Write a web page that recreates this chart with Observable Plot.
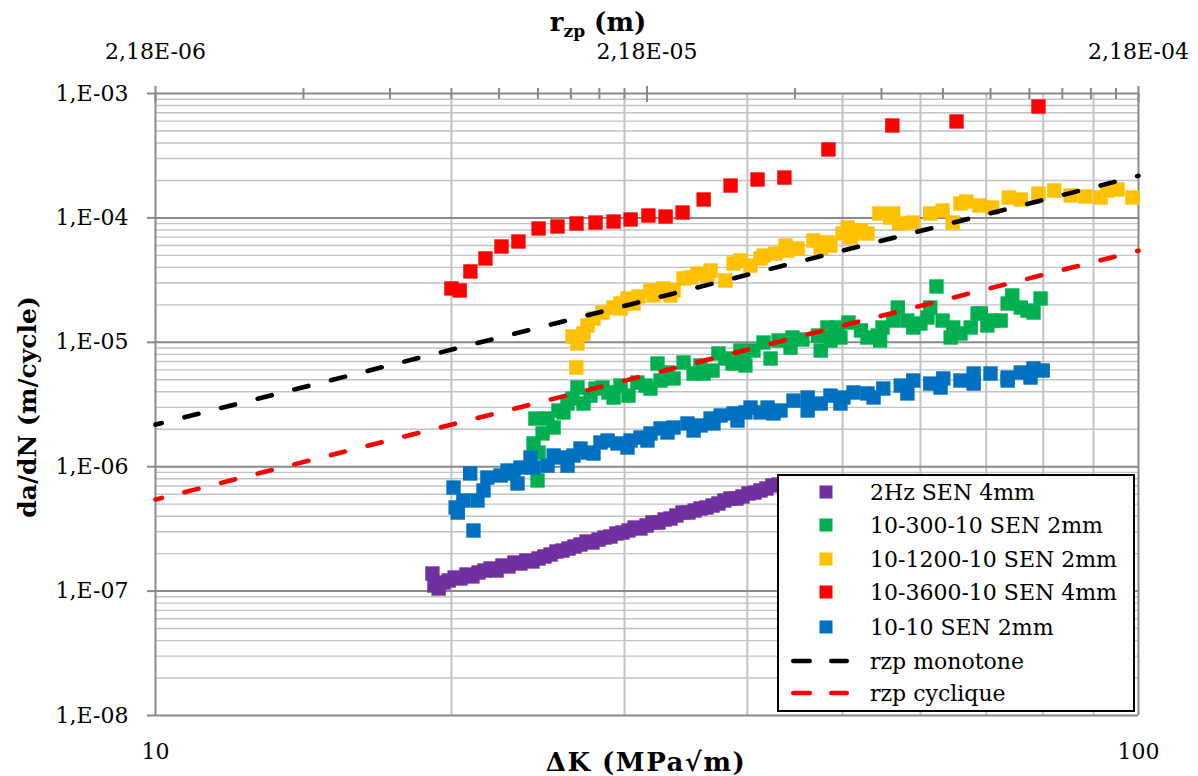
<!DOCTYPE html>
<html><head><meta charset="utf-8">
<script src="https://cdn.jsdelivr.net/npm/d3@7"></script>
<script src="https://cdn.jsdelivr.net/npm/@observablehq/plot@0.6"></script>
<style>
body{margin:0;background:#fff;}
#wrap{position:relative;width:1198px;height:776px;overflow:hidden;font-family:"DejaVu Serif",serif;}
#legend{position:absolute;left:777px;top:474px;}
</style></head><body><div id="wrap"></div>
<script>
// ---- data (ΔK in MPa√m, da/dN in m/cycle) ----
const purpleDK = [19.13,19.22,19.41,19.63,19.87,20.15,20.43,20.72,21.01,21.31,21.61,21.92,22.23,22.54,22.86,23.18,23.51,23.84,24.18,24.53,24.87,25.23,25.58,25.94,26.31,26.68,27.06,27.45,27.83,28.23,28.63,29.03,29.44,29.86,30.28,30.71,31.14,31.59,32.03,32.49,32.95,33.41,33.88,34.37,34.85,35.35,35.84,36.35,36.87,37.38,37.91,38.45,38.99,39.55,40.11,40.68,41.25,41.83,42.42,43.03];
const purpleRate = [1.385e-7,1.109e-7,1.049e-7,1.172e-7,1.217e-7,1.286e-7,1.263e-7,1.36e-7,1.311e-7,1.411e-7,1.464e-7,1.52e-7,1.464e-7,1.606e-7,1.577e-7,1.698e-7,1.667e-7,1.762e-7,1.73e-7,1.829e-7,1.898e-7,1.969e-7,2.081e-7,2.12e-7,2.2e-7,2.283e-7,2.369e-7,2.504e-7,2.458e-7,2.598e-7,2.696e-7,2.747e-7,2.904e-7,2.958e-7,3.07e-7,3.245e-7,3.186e-7,3.368e-7,3.559e-7,3.559e-7,3.764e-7,3.834e-7,4.053e-7,4.284e-7,4.284e-7,4.445e-7,4.613e-7,4.699e-7,4.876e-7,5.06e-7,5.35e-7,5.55e-7,5.55e-7,5.76e-7,6.09e-7,6.2e-7,6.44e-7,6.68e-7,7.06e-7,7.19e-7];

const greenDK = [24.24,24.35,24.47,24.53,24.76,25.05,25.41,25.70,26.25,26.87,27.25,28.03,28.49,29.24,29.72,30.28,30.92,31.88,32.41,32.64,33.65,34.45,35.27,36.11,37.38,38.64,39.36,39.64,40.58,41.55,42.24,43.04,44.46,45.5,47.2,47.5,48.6,49.4,50.7,52.2,54.3,54.9,56.9,58.2,60.0,61.4,62.3,63.2,64.8,65.9,68.6,70.2,72.4,74.4,75.9,78.2,79.5,
  39.82,44.26,48.26,49.75,53.0,54.6,56.3,59.0,61.0,64.4,67.5,69.1,71.2,73.6,77.1,26.0,26.56,27.70,28.89,31.51,33.18,35.84,36.87,38.0];
const greenRate = [1.537e-6,2.44e-6,7.75e-7,1.30e-6,1.85e-6,2.44e-6,2.066e-6,2.83e-6,3.22e-6,4.33e-6,3.22e-6,4.25e-6,4.33e-6,3.6e-6,4.49e-6,3.73e-6,4.75e-6,4.25e-6,6.75e-6,4.93e-6,5.12e-6,6.88e-6,5.61e-6,5.61e-6,8.13e-6,6.75e-6,8.59e-6,7.55e-6,8.59e-6,9.96e-6,7.41e-6,1.034e-5,1.093e-5,1.053e-5,1.134e-5,8.59e-6,1.034e-5,1.315e-5,1.442e-5,1.245e-5,1.134e-5,1.315e-5,1.904e-5,1.496e-5,1.416e-5,1.904e-5,2.81e-5,1.496e-5,1.315e-5,1.177e-5,1.704e-5,1.365e-5,1.496e-5,2.38e-5,1.904e-5,1.736e-5,2.25e-5,
  6.51e-6,9.08e-6,1.315e-5,1.093e-5,1.093e-5,1.034e-5,1.496e-5,1.315e-5,1.583e-5,1.093e-5,1.315e-5,1.704e-5,1.496e-5,2.05e-5,1.80e-5,2.73e-6,3.53e-6,3.73e-6,3.95e-6,4.49e-6,5.72e-6,6.51e-6,5.93e-6,7.41e-6];

const yellowDK = [26.8,26.56,26.87,27.25,27.51,27.90,28.49,29.24,29.72,30.21,30.99,31.88,32.87,33.41,34.45,35.6,36.7,38.0,39.36,40.3,41.55,42.73,43.75,45.0,46.7,47.5,48.6,50.0,51.2,53.0,54.5,55.9,57.1,58.9,61.4,63.2,64.7,66.8,68.9,71.0,73.8,75.9,79.1,82.1,85.3,88.3,91.5,95.2,98.6,
  29.72,30.64,32.11,33.65,35.03,36.44,38.73,41.25,43.95,48.26,50.93,50.6,52.2,56.3,65.9,93.0];
const yellowRate = [6.27e-6,1.113e-5,9.78e-6,1.177e-5,1.365e-5,1.553e-5,1.736e-5,1.904e-5,2.05e-5,2.25e-5,2.335e-5,2.61e-5,2.71e-5,2.38e-5,3.26e-5,3.57e-5,3.78e-5,3.14e-5,4.55e-5,4.14e-5,4.98e-5,5.17e-5,6.0e-5,5.68e-5,6.58e-5,5.68e-5,6.0e-5,7.49e-5,7.49e-5,7.49e-5,1.085e-4,1.007e-4,9.02e-5,9.18e-5,1.085e-4,1.147e-4,9.18e-5,1.354e-4,1.258e-4,1.212e-4,1.459e-4,1.405e-4,1.571e-4,1.661e-4,1.514e-4,1.486e-4,1.459e-4,1.692e-4,1.459e-4,
  1.87e-5,2.05e-5,2.38e-5,2.61e-5,3.32e-5,3.44e-5,4.30e-5,4.72e-5,5.47e-5,6.34e-5,6.96e-5,8.37e-5,7.92e-5,1.085e-4,1.305e-4,1.661e-4];

const redDK = [20.0,20.39,20.91,21.66,22.49,23.40,24.53,25.64,26.81,28.03,29.24,30.43,31.73,33.03,34.37,36.11,38.46,40.97,43.63,48.37,56.18,65.29,79.11];
const redRate = [2.71e-5,2.61e-5,3.71e-5,4.72e-5,5.89e-5,6.46e-5,8.22e-5,8.53e-5,9.02e-5,9.18e-5,9.35e-5,9.71e-5,1.045e-4,1.026e-4,1.105e-4,1.405e-4,1.82e-4,2.035e-4,2.11e-4,3.55e-4,5.53e-4,5.96e-4,7.86e-4];

const blueDK = [20.1,20.2,20.3,20.9,21.06,21.26,21.56,22.44,22.81,23.35,23.51,24.24,25.05,25.41,26.25,26.62,27.51,28.36,29.51,30.43,31.14,31.88,32.64,33.65,34.77,35.84,36.7,37.57,38.73,39.82,40.3,41.25,41.94,43.23,44.57,46.07,47.5,48.6,50.1,51.3,53.0,55.0,57.3,59.0,61.4,63.3,65.9,67.97,70.7,73.6,75.9,78.2,79.9,
  20.57,21.76,23.13,24.07,25.82,27.06,27.90,28.83,30.21,31.66,33.18,35.27,36.95,39.09,42.53,46.07,49.75,53.76,58.2,62.9,67.97,73.6,77.65];
const blueRate = [6.8e-7,4.7e-7,4.28e-7,8.82e-7,3.07e-7,5.35e-7,6.44e-7,8.5e-7,9.32e-7,7.33e-7,9.85e-7,9.85e-7,1.02e-6,1.23e-6,1.02e-6,1.23e-6,1.30e-6,1.565e-6,1.537e-6,1.624e-6,1.717e-6,1.85e-6,2.03e-6,2.066e-6,2.225e-6,2.144e-6,2.44e-6,2.58e-6,2.68e-6,2.73e-6,2.99e-6,2.73e-6,2.99e-6,2.83e-6,3.4e-6,3.6e-6,3.22e-6,3.73e-6,3.6e-6,3.95e-6,3.88e-6,4.25e-6,4.49e-6,4.93e-6,4.66e-6,5.12e-6,4.93e-6,5.61e-6,5.61e-6,5.21e-6,5.72e-6,6.16e-6,5.93e-6,
  5.35e-7,8.19e-7,8.82e-7,1.186e-6,1.186e-6,1.40e-6,1.276e-6,1.624e-6,1.426e-6,1.624e-6,1.884e-6,1.954e-6,2.225e-6,2.35e-6,2.68e-6,2.83e-6,3.22e-6,3.6e-6,3.88e-6,4.33e-6,4.66e-6,4.93e-6,5.21e-6];

// rzp reference lines (end points)
const lineDK = [10, 100];
const monotoneRate = [2.18e-6, 2.18e-4];
const cycliqueRate = [5.45e-7, 5.45e-5];

// axes
const yTicks = [1e-8, 1e-7, 1e-6, 1e-5, 1e-4, 1e-3];
const yTickLabels = ["1,E-08","1,E-07","1,E-06","1,E-05","1,E-04","1,E-03"];
const yMinorMultipliers = [2,3,4,5,6,7,8,9];
const xTicks = [10, 100];
const xTickLabels = ["10","100"];
const xGrid = [20,30,40,50,60,70,80,90];
const rzpAt10 = 2.18e-6;           // rzp at ΔK = 10
const rzpTickLabels = ["2,18E-06","2,18E-05","2,18E-04"];
const rzpMajor = [1, 10, 100];      // multiples of rzpAt10
const rzpMinor = [2,3,4,5,6,7,8,9,20,30,40,50,60,70,80,90];

const seriesNames = ["2Hz SEN 4mm","10-300-10 SEN 2mm","10-1200-10 SEN 2mm","10-3600-10 SEN 4mm","10-10 SEN 2mm"];
const seriesColors = ["#7030A0","#00B050","#FFC000","#FF0000","#0070C0"];
const lineNames = ["rzp monotone","rzp cyclique"];
const lineColors = ["#000000","#FF0000"];

// ---- build tables ----
const zip = (a, b) => a.map((v, i) => ({dk: v, rate: b[i]}));
const series = [zip(purpleDK, purpleRate), zip(greenDK, greenRate), zip(yellowDK, yellowRate), zip(redDK, redRate), zip(blueDK, blueRate)];
const lines = [zip(lineDK, monotoneRate), zip(lineDK, cycliqueRate)];
const yMinor = yTicks.slice(0, -1).flatMap(t => yMinorMultipliers.map(m => m * t));
// rzp ∝ ΔK²  →  ΔK = 10·sqrt(rzp / rzp(10))
const rzpToDK = m => 10 * Math.sqrt(m);
const topMajor = rzpMajor.map(rzpToDK);
const topMinor = rzpMinor.map(rzpToDK);

const axisGray = "#898989";
const gridGray = "#c3c3c3";

const chart = Plot.plot({
  width: 1198, height: 776,
  marginLeft: 155, marginRight: 60, marginTop: 93, marginBottom: 61,
  x: {type: "log", domain: [10, 100]},
  y: {type: "log", domain: [1e-8, 1e-3]},
  style: {fontFamily: "'DejaVu Serif', serif", fontSize: "22px", color: "#000", background: "#fff", overflow: "visible"},
  marks: [
    Plot.ruleY(yMinor, {stroke: gridGray, strokeWidth: 1.4}),
    Plot.ruleX(xGrid, {stroke: gridGray, strokeWidth: 2}),
    Plot.ruleY(yTicks, {stroke: axisGray, strokeWidth: 2}),
    Plot.ruleX([10, 100], {stroke: axisGray, strokeWidth: 2}),
    Plot.axisY({ticks: yTicks, tickFormat: d => yTickLabels[yTicks.indexOf(d)], tickSize: 8, tickPadding: 19, stroke: axisGray, strokeWidth: 2, fill: "#000", fontSize: 22, label: null}),
    Plot.axisX({anchor: "bottom", ticks: xTicks, tickFormat: d => xTickLabels[xTicks.indexOf(d)], tickSize: 0, tickPadding: 28, fill: "#000", fontSize: 22, label: null}),
    Plot.axisX({anchor: "top", ticks: topMinor, tickFormat: () => "", tickSize: 6, stroke: axisGray, strokeWidth: 2, label: null}),
    Plot.tickX(topMinor, {x: d => d, insetBottom: 616, stroke: axisGray, strokeWidth: 2}),
    Plot.axisX({anchor: "top", ticks: topMajor, tickFormat: d => rzpTickLabels[topMajor.indexOf(d)], tickSize: 8, tickPadding: 27, stroke: axisGray, strokeWidth: 2, fill: "#000", fontSize: 22, label: null}),
    Plot.tickX(topMajor, {x: d => d, insetBottom: 613, stroke: axisGray, strokeWidth: 2}),
    ...series.map((s, i) => Plot.dot(s, {x: "dk", y: "rate", symbol: "square", r: 8.1, fill: seriesColors[i], stroke: null})),
    ...lines.map((l, i) => Plot.line(l, {x: "dk", y: "rate", stroke: lineColors[i], strokeWidth: 4.6, strokeDasharray: "14.5 23.3", strokeDashoffset: 8, strokeLinecap: "round"}))
  ]
});

const wrap = document.getElementById("wrap");
wrap.appendChild(chart);

// axis titles
const svg = d3.select(chart);
const t = svg.append("text").attr("x", 598).attr("y", 31).attr("text-anchor", "middle")
  .attr("font-weight", "bold").attr("font-size", 26).attr("fill", "#000");
t.append("tspan").text("r");
t.append("tspan").attr("font-size", 17).attr("dy", 6).text("zp");
t.append("tspan").attr("dy", -6).text(" (m)");
svg.append("text").attr("x", 646).attr("y", 771).attr("text-anchor", "middle")
  .attr("font-weight", "bold").attr("font-size", 26).attr("letter-spacing", 1.5).attr("fill", "#000").text("ΔK (MPa√m)");
svg.append("text").attr("transform", "translate(36,407) rotate(-90)").attr("text-anchor", "middle")
  .attr("font-weight", "bold").attr("font-size", 25).attr("fill", "#000").text("da/dN (m/cycle)");

// legend
const L = d3.select(wrap).append("svg").attr("id", "legend").attr("width", 358).attr("height", 238);
L.append("rect").attr("x", 1).attr("y", 1).attr("width", 356).attr("height", 236).attr("fill", "#fff").attr("stroke", "#000").attr("stroke-width", 2);
const rowY = [18, 51, 85, 118, 153, 187, 219];
seriesNames.forEach((n, i) => {
  L.append("rect").attr("x", 49 - 6.5).attr("y", rowY[i] - 6.5).attr("width", 13).attr("height", 13).attr("fill", seriesColors[i]);
  L.append("text").attr("x", 93).attr("y", rowY[i]).attr("dy", "0.36em").attr("font-size", 22).attr("fill", "#000").text(n);
});
lineNames.forEach((n, j) => {
  const y = rowY[5 + j];
  L.append("line").attr("x1", 16.25).attr("x2", 69.75).attr("y1", y).attr("y2", y)
    .attr("stroke", lineColors[j]).attr("stroke-width", 4.5).attr("stroke-linecap", "round").attr("stroke-dasharray", "16.5 21.5");
  L.append("text").attr("x", 93).attr("y", y).attr("dy", "0.36em").attr("font-size", 22).attr("fill", "#000").text(n);
});
</script></body></html>
